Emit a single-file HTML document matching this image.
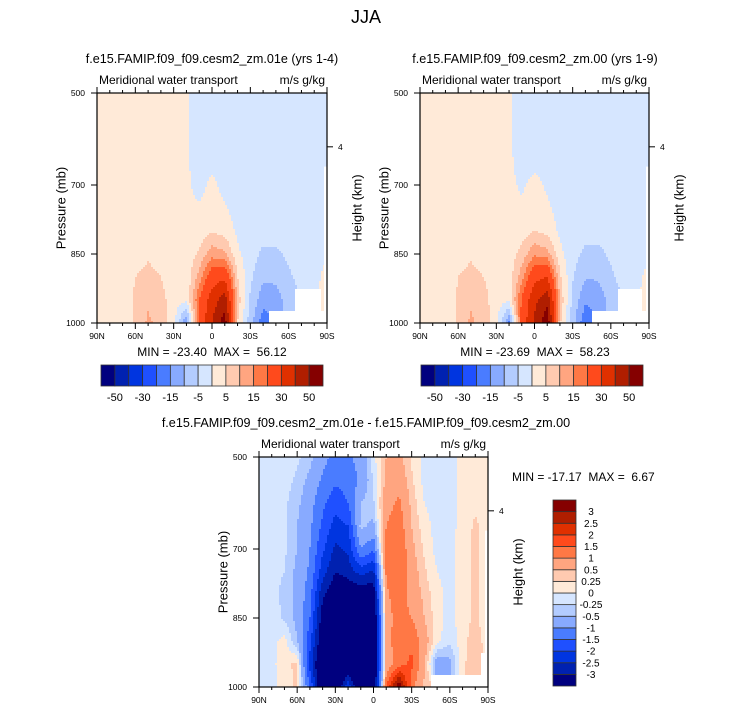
<!DOCTYPE html>
<html><head><meta charset="utf-8"><style>
body{margin:0;background:#fff;}
svg{display:block;font-family:"Liberation Sans",Arial,sans-serif;}
</style></head><body>
<svg id="c" width="733" height="712" viewBox="0 0 733 712" xmlns="http://www.w3.org/2000/svg">
<text x="366" y="23" font-size="18" text-anchor="middle">JJA</text>
</svg>
<script>
// ---- data ----
const latLabels = ["90N","60N","30N","0","30S","60S","90S"];
const pressureTicks = [500, 700, 850, 1000];
const topLevels = [-50,-40,-30,-20,-15,-10,-5,0,5,10,15,20,30,40,50];
const topLevelLabels = ["-50","-30","-15","-5","5","15","30","50"];
const diffLevels = [-3,-2.5,-2,-1.5,-1,-0.5,-0.25,0,0.25,0.5,1,1.5,2,2.5,3];
const diffLevelLabels = ["-3","-2.5","-2","-1.5","-1","-0.5","-0.25","0","0.25","0.5","1","1.5","2","2.5","3"];
const palette = ["#00007F","#0021B0","#0035E0","#1F50FF","#4A7CFF","#88AAFF","#B3CCFF","#D6E6FF","#FFEAD8","#FFCAB0","#FFA580","#FF7845","#FF4A1C","#E03000","#B01E00","#850000"];
const N = NaN;
// rows: p = 500..1000 step 50 ; cols: lat 90N..90S step 10
const field01e = [
[2,2,2,2,2,2,2,1,-3,-2,-2,-2,-2,-2,-2,-2,-2,-2,-2],
[2,2,2,2,2,2,2,1,-3,-2,-2,-2,-2,-2,-2,-2,-2,-2,-2],
[2,2,2,2,2,2,2,1,-3,-2,-2,-2,-2,-2,-2,-2,-2,-2,-2],
[2,2,2,2,2,2,2,1,-3,-2,-2,-2,-2,-2,-2,-2,-2,-2,-1],
[2,2,2,2,2,2,2,1,-2,1.5,-2,-2,-2,-2,-2,-2,-2,-2,-1],
[2,2,2,2,2,2,2,2,0.5,3,0.5,-2,-2,-2,-2,-2,-2,-2,-1],
[2,2,2,2,2,2,2,2,2,4.5,3,-1,-2.5,-3,-3,-2,-2,-2,-1],
[2,2,2,2,4,2,1.5,1.5,6,13,11,1,-3,-6,-6,-4,-2,-2,0],
[2,2,1,5,7,5,2,1.5,12,25,28,5,-4,-9,-9,-6,-3,-1,1],
[2,2,1,6,9,7,2,1,20,35,45,8,-6,-13,-12,-8,N,N,1],
[2,2,0,6,11,8,2,-15,22,40,56,5,-8,-18,N,N,N,N,N]
];
const field00 = [
[2,2,2,2,2,2,2,1,-3,-2,-2,-2,-2,-2,-2,-2,-2,-2,-2],
[2,2,2,2,2,2,2,1,-3,-2,-2,-2,-2,-2,-2,-2,-2,-2,-2],
[2,2,2,2,2,2,2,1,-3,-2,-2,-2,-2,-2,-2,-2,-2,-2,-2],
[2,2,2,2,2,2,2,1,-2,-2,-2,-2,-2,-2,-2,-2,-2,-2,-1],
[2,2,2,2,2,2,2,1.5,-1,2,-1,-2,-2,-2,-2,-2,-2,-2,-1],
[2,2,2,2,2,2,2,2,1,3.5,1,-2,-2,-2,-2,-2,-2,-2,-1],
[2,2,2,2,2,2,2,2,2.5,5,3.5,-1,-3,-3.5,-3,-2,-2,-2,-1],
[2,2,2,2,4,2,1.5,2,7,14,12,1.5,-3.5,-6,-6.5,-4,-2,-2,0],
[2,2,1,5,7,5,2,2,13,27,30,6,-4.5,-9.5,-9.5,-6,-3,-1,1],
[2,2,1,6,9,7,2,1,21,37,47,9,-6.5,-14,-13,-8,N,N,1],
[2,2,0,6,11,8,2,-16,23,42,58,6,-8,-19,N,N,N,N,N]
];
const fieldDiff = [
[-0.1,-0.1,-0.1,-0.2,-0.4,-0.8,-1.2,-1.1,-0.8,-0.1,0.5,0.6,0.2,-0.1,-0.1,-0.1,0.1,0.1,0.1],
[-0.1,-0.1,-0.15,-0.3,-0.6,-1.1,-1.4,-1.3,-0.9,-0.2,0.6,0.8,0.3,-0.1,-0.1,-0.1,0.1,0.15,0.1],
[-0.1,-0.1,-0.2,-0.4,-0.8,-1.4,-1.8,-1.5,-0.5,-0.3,0.8,1.1,0.4,0,-0.1,-0.1,0.1,0.2,0.1],
[-0.1,-0.15,-0.2,-0.5,-0.9,-1.6,-2.2,-2.0,-0.4,-0.6,1.0,1.3,0.5,0.1,-0.1,-0.1,0.1,0.3,0.1],
[-0.1,-0.15,-0.2,-0.5,-1.0,-1.9,-2.6,-2.4,-1.0,-1.4,1.2,1.5,0.6,0.2,-0.1,-0.1,0.15,0.3,0.1],
[-0.1,-0.2,-0.25,-0.6,-1.1,-2.3,-3.0,-2.8,-2.3,-2.6,1.1,1.5,0.7,0.3,0,-0.1,0.15,0.3,0.1],
[-0.1,-0.2,-0.3,-0.6,-1.3,-2.9,-3.5,-3.5,-3.5,-3.5,0.9,1.3,0.8,0.4,0.1,-0.1,0.15,0.3,0.1],
[0,-0.1,-0.3,-0.6,-1.5,-3.3,-4,-4,-4,-4,0.8,1.2,1.0,0.5,0.1,-0.1,0.15,0.3,0.1],
[0,-0.1,0.1,-0.5,-1.8,-3.6,-4,-4,-4,-4,0.8,1.3,1.4,0.7,0.1,-0.2,0.15,0.4,0.1],
[-0.1,-0.1,0.2,0.3,-2.2,-4,-4,-4,-4,-4,0.6,1.3,1.6,0.6,-0.8,-0.6,0.2,0.4,N],
[-0.1,-0.1,0.1,0.3,-1.5,-4,-4,-2,-4,-4,1.5,3.5,1.2,0.4,N,N,N,N,N]
];
const statsTopLeft = ["-23.40","56.12"];
const statsTopRight = ["-23.69","58.23"];
const statsDiff = ["-17.17","6.67"];

// ---- drawing ----
const NS = "http://www.w3.org/2000/svg";
const svg = document.getElementById("c");
function mk(tag, attrs, parent){
  const e = document.createElementNS(NS, tag);
  for (const k in attrs) e.setAttribute(k, attrs[k]);
  (parent||svg).appendChild(e);
  return e;
}
function levelIndex(v, levels){ let i=0; while(i<levels.length && v>=levels[i]) i++; return i; }
function sample(grid, fi, fj){
  const R=grid.length-1, C=grid[0].length-1;
  const ni=Math.round(fi), nj=Math.round(fj);
  if (isNaN(grid[ni][nj])) return NaN;
  const i0=Math.min(Math.floor(fi),R-1), j0=Math.min(Math.floor(fj),C-1);
  const di=fi-i0, dj=fj-j0;
  let s=0, w=0;
  [[i0,j0,(1-di)*(1-dj)],[i0+1,j0,di*(1-dj)],[i0,j0+1,(1-di)*dj],[i0+1,j0+1,di*dj]].forEach(([a,b,ww])=>{
    const v=grid[a][b]; if(!isNaN(v)&&ww>0){s+=v*ww;w+=ww;}
  });
  return w>0? s/w : NaN;
}
const SP = "\u00a0";
function drawPlot(P){
  const g = mk("g", {});
  
  
  const xs = lat => P.x0 + (90-lat)/180*P.w;
  const ys = p => P.y0 + (p-500)/500*P.h;
  const fg = mk("g", {"shape-rendering":"crispEdges"}, g);
  
  
  const st=2;
  for (let py=0; py<P.h; py+=st){
    const fi = Math.min((py+st/2)/P.h*10, 10);
    let runStart=0, runCol=null;
    for (let px=0; ; px+=st){
      const done = px>=P.w;
      let col=null;
      if (!done){
        const fj=Math.min((px+st/2)/P.w*18, 18);
        const v=sample(P.grid, fi, fj);
        col = isNaN(v) ? "#ffffff" : palette[levelIndex(v,P.levels)];
      }
      if (col!==runCol){
        if (runCol!==null){
          const r = mk("rect",{x:P.x0+runStart,y:P.y0+py,width:Math.min(px,P.w)-runStart,height:Math.min(st,P.h-py),fill:runCol},fg);
          
          
        }
        runStart=px; runCol=col;
      }
      if (done) break;
    }
  }
  const strip = mk("rect",{x:P.x0+P.w-3,y:ys(660),width:3,height:ys(1000)-ys(660),fill:"#fff"},g);
  
  
  const fr = mk("rect",{x:P.x0,y:P.y0,width:P.w,height:P.h,fill:"none",stroke:"#000","stroke-width":1.2},g);
  
  
  for (let lat=90; lat>=-90; lat-=10){
    const x=xs(lat), major = lat%30===0, L= major?6:3;
    mk("line",{x1:x,x2:x,y1:P.y0,y2:P.y0-L,stroke:"#000","stroke-width":1},g);
    mk("line",{x1:x,x2:x,y1:P.y0+P.h,y2:P.y0+P.h+L,stroke:"#000","stroke-width":1},g);
  }
  latLabels.forEach((lab,k)=>{
    const t = mk("text",{x:xs(90-30*k),y:P.y0+P.h+16,"font-size":8.5,"text-anchor":"middle"},g);
    t.textContent=lab;
    
    
  });
  pressureTicks.forEach(p=>{
    const y=ys(p);
    mk("line",{x1:P.x0,x2:P.x0-6,y1:y,y2:y,stroke:"#000","stroke-width":1},g);
    const t = mk("text",{x:P.x0-12,y:y+3,"font-size":8.5,"text-anchor":"end"},g);
    t.textContent=String(p);
    
    
  });
  const yh = ys(617);
  mk("line",{x1:P.x0+P.w,x2:P.x0+P.w+6,y1:yh,y2:yh,stroke:"#000","stroke-width":1},g);
  const h4 = mk("text",{x:P.x0+P.w+11,y:yh+3,"font-size":8.5},g);
  h4.textContent="4";
  
  
  const cy = P.y0+P.h/2;
  const yl = mk("text",{x:P.x0-36,y:cy,"font-size":13,"text-anchor":"middle",transform:`rotate(-90 ${P.x0-36} ${cy})`,dy:"0.35em"},g);
  yl.textContent="Pressure (mb)";
  
  
  const hl = mk("text",{x:P.x0+P.w+30,y:cy,"font-size":13,"text-anchor":"middle",transform:`rotate(-90 ${P.x0+P.w+30} ${cy})`,dy:"0.35em"},g);
  hl.textContent="Height (km)";
  
  
  const lt = mk("text",{x:P.x0+2,y:P.y0-9,"font-size":12},g);
  lt.textContent="Meridional water transport";
  
  
  const rt = mk("text",{x:P.x0+P.w-2,y:P.y0-9,"font-size":12,"text-anchor":"end"},g);
  rt.textContent="m/s g/kg";
  
  
  const tt = mk("text",{x:P.titleX,y:P.y0-30,"font-size":12.6,"text-anchor":"middle"},g);
  tt.textContent=P.title;
  
  
  const mm = mk("text",{x:P.statX,y:P.statY,"font-size":12,"text-anchor":P.statAnchor},g);
  mm.textContent="MIN = "+P.stats[0]+SP+SP+"MAX ="+SP+SP+P.stats[1];
  
  
}
function hBar(x0,y0,w,h){
  const g = mk("g",{});
  
  
  const bw=w/palette.length;
  palette.forEach((c,i)=>{
    const r = mk("rect",{x:x0+i*bw,y:y0,width:bw,height:h,fill:c,stroke:"#333","stroke-width":0.8},g);
    
    
  });
  topLevelLabels.forEach((lab,k)=>{
    const idx = topLevels.indexOf(Number(lab));
    const t = mk("text",{x:x0+(idx+1)*bw,y:y0+h+15,"font-size":11,"text-anchor":"middle"},g);
    t.textContent=lab;
    
    
  });
}
function vBar(x0,y0,w,h){
  const g = mk("g",{});
  
  
  const bh=h/palette.length;
  palette.forEach((c,i)=>{
    const r = mk("rect",{x:x0,y:y0+(palette.length-1-i)*bh,width:w,height:bh,fill:c,stroke:"#333","stroke-width":0.8},g);
    
    
  });
  diffLevelLabels.forEach((lab,k)=>{
    const y = y0+(palette.length-1-k)*bh;
    const t = mk("text",{x:x0+w+15,y:y+3.5,"font-size":10,"text-anchor":"middle"},g);
    t.textContent=lab;
    
    
  });
}
drawPlot({name:"panel-01e",x0:97,y0:93,w:230,h:230,grid:field01e,levels:topLevels,title:"f.e15.FAMIP.f09_f09.cesm2_zm.01e (yrs 1-4)",titleX:212,stats:statsTopLeft,statX:212,statY:356,statAnchor:"middle"});
drawPlot({name:"panel-00",x0:420,y0:93,w:229,h:230,grid:field00,levels:topLevels,title:"f.e15.FAMIP.f09_f09.cesm2_zm.00 (yrs 1-9)",titleX:535,stats:statsTopRight,statX:535,statY:356,statAnchor:"middle"});
drawPlot({name:"panel-diff",x0:259,y0:457,w:229,h:230,grid:fieldDiff,levels:diffLevels,title:"f.e15.FAMIP.f09_f09.cesm2_zm.01e - f.e15.FAMIP.f09_f09.cesm2_zm.00",titleX:366,stats:statsDiff,statX:512,statY:481,statAnchor:"start"});
hBar(101,365,222,21);
hBar(421,365,222,21);
vBar(553,500,23,186);
</script>
</body></html>
